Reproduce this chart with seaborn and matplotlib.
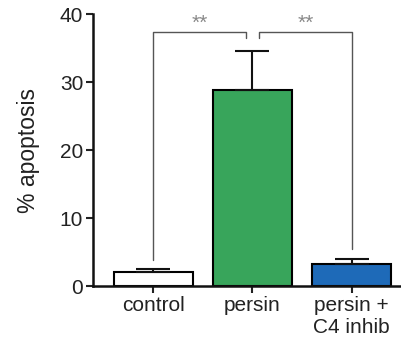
import numpy as np
import pandas as pd
import matplotlib
matplotlib.use("Agg")
import matplotlib.pyplot as plt
import seaborn as sns

# Data
groups = ["control", "persin", "persin +\nC4 inhib"]
apoptosis = [2.0, 28.8, 3.25]
sem = [0.5, 5.8, 0.75]
bar_colors = ["#ffffff", "#38a55b", "#1e6ab8"]

# significance brackets: (left group, right group, star label)
comparisons = [(0, 1, "**"), (1, 2, "**")]

sns.set_style("ticks")
plt.rcParams['font.family'] = ['Liberation Sans', 'DejaVu Sans']

df = pd.DataFrame({"group": groups, "apoptosis": apoptosis})

fig = plt.figure(figsize=(4.02, 3.45), dpi=100)
ax = fig.add_axes([0.231, 0.171, 0.767, 0.788])

sns.barplot(data=df, x="group", y="apoptosis", hue="group", palette=bar_colors,
            errorbar=None, width=0.8, edgecolor="black", linewidth=1.5,
            saturation=1, legend=False, ax=ax)

# upper-only error bars
ax.errorbar(range(len(groups)), apoptosis, yerr=[np.zeros(len(sem)), sem],
            fmt="none", ecolor="#111111", elinewidth=1.5, capsize=12, capthick=1.5)

# brackets
bracket_y = 37.4
leg_low = {0: 3.8, 2: 5.4}
gap = 0.07
for a, b, label in comparisons:
    if a == 0:
        xs = [a, a, b - gap, b - gap]
        ys = [leg_low[a], bracket_y, bracket_y, 36.5]
    else:
        xs = [a + gap, a + gap, b, b]
        ys = [36.5, bracket_y, bracket_y, leg_low[b]]
    ax.plot(xs, ys, color="#555555", lw=1.0, clip_on=False)
    ax.text((xs[0] + xs[-1]) / 2, 38.6, label, ha="center", va="center",
            fontsize=15, color="#888888")

ax.set_ylim(0, 40)
ax.set_xlim(-0.61, 2.5)
ax.set_yticks([0, 10, 20, 30, 40])
ax.set_xlabel("")
ax.set_ylabel("% apoptosis", fontsize=16.5, color="#222222", labelpad=14)
ax.tick_params(axis="both", labelsize=15, colors="#222222", width=1.5, length=5, pad=2)
for s in ["top", "right"]:
    ax.spines[s].set_visible(False)
for s in ["left", "bottom"]:
    ax.spines[s].set_linewidth(1.8)
    ax.spines[s].set_color("#111111")

fig.savefig("out.png", dpi=100)
